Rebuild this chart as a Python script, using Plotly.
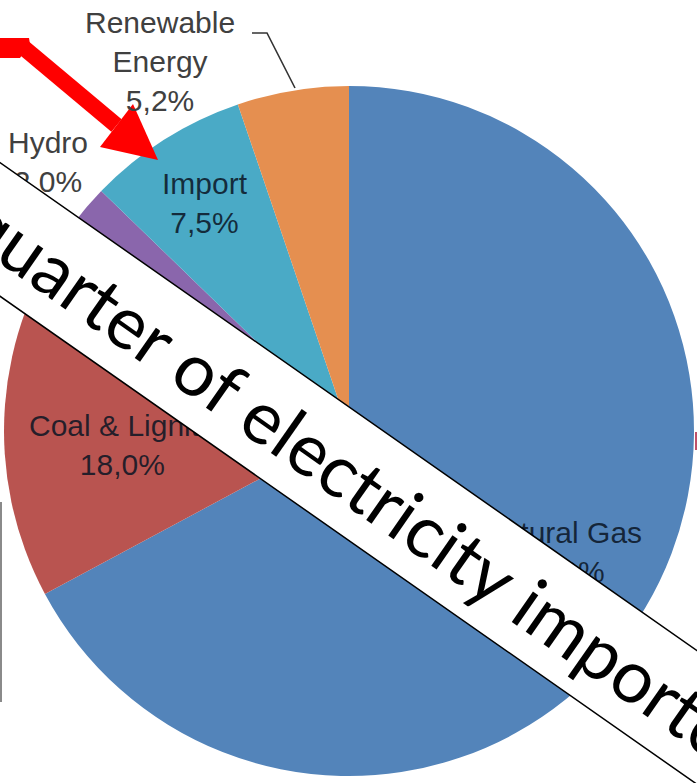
import math
import plotly.graph_objects as go

W, H = 697, 783

# Electricity generation mix (shares in %), listed clockwise from 12 o'clock
sources = ["Natural Gas", "Coal & Lignite", "Hydro", "Import", "Renewable Energy"]
shares = [66.9, 18.0, 2.0, 7.5, 5.2]
slice_colors = ["#5384BA", "#B95450", "#8A66AC", "#4AAAC6", "#E58F50"]
label_lines = ["Natural Gas", "Coal & Lignite", "Hydro", "Import", "Renewable<br>Energy"]
label_inside = [True, True, False, True, False]
banner_text = "A quarter of electricity imported"

# label centres in pixels (x, y from top)
label_pos = [(562, 552), (122, 445), (48, 162), (205, 203), (160, 62)]

# pie geometry in pixels
cx, cy, r = 349, 431, 345


def paper(x, y):
    return x / W, 1 - y / H


def pct(v):
    return f"{v:.1f}".replace(".", ",") + "%"


fig = go.Figure(
    go.Pie(
        labels=sources,
        values=shares,
        sort=False,
        direction="clockwise",
        rotation=0,
        marker=dict(colors=slice_colors, line=dict(width=0)),
        textinfo="none",
        hoverinfo="label+percent",
        showlegend=False,
        domain=dict(x=[(cx - r) / W, (cx + r) / W],
                    y=[(H - cy - r) / H, (H - cy + r) / H]),
    )
)

annotations = []
for name, val, inside, (lx, ly) in zip(label_lines, shares, label_inside, label_pos):
    ax, ay = paper(lx, ly)
    annotations.append(dict(
        x=ax, y=ay, xref="paper", yref="paper", showarrow=False,
        text=f"{name}<br>{pct(val)}",
        font=dict(family="Liberation Sans, Arial", size=30,
                  color="rgba(10,20,35,0.85)" if inside else "#404040"),
        xanchor="center", yanchor="middle", align="center",
    ))

shapes = []


def path_from(points, close=True):
    d = ""
    for i, (x, y) in enumerate(points):
        px_, py_ = paper(x, y)
        d += ("M" if i == 0 else "L") + f"{px_:.5f},{py_:.5f} "
    return d + ("Z" if close else "")


# leader line for the renewable label
shapes.append(dict(type="path", xref="paper", yref="paper",
                   path=path_from([(252, 33), (267, 33), (295, 88)], close=False),
                   line=dict(color="#333333", width=1.6)))

# red bent arrow pointing at the import slice
red = "#FF0000"
tip = (158, 160)
head_a, head_b = (133, 104), (100, 147)
base = ((head_a[0] + head_b[0]) / 2, (head_a[1] + head_b[1]) / 2)
start = (24, 48)
dx, dy = base[0] - start[0], base[1] - start[1]
L = math.hypot(dx, dy)
nx_, ny_ = -dy / L, dx / L
hw = 8
shaft = [(start[0] - hw * nx_, start[1] - hw * ny_),
         (base[0] - hw * nx_, base[1] - hw * ny_),
         (base[0] + hw * nx_, base[1] + hw * ny_),
         (start[0] + hw * nx_, start[1] + hw * ny_)]
bar = [(-10, 38), (29, 38), (30, 44), (20, 58), (-10, 58)]
for poly in (bar, shaft, [head_a, tip, head_b]):
    shapes.append(dict(type="path", xref="paper", yref="paper",
                       path=path_from(poly), fillcolor=red,
                       line=dict(color=red, width=0)))

# thin grey rule at the left edge and small red tick on the right edge
shapes.append(dict(type="line", xref="paper", yref="paper",
                   x0=1 / W, x1=1 / W, y0=1 - 502 / H, y1=1 - 702 / H,
                   line=dict(color="#8a8a8a", width=2)))
shapes.append(dict(type="line", xref="paper", yref="paper",
                   x0=696 / W, x1=696 / W, y0=1 - 432 / H, y1=1 - 450 / H,
                   line=dict(color="#c0506a", width=2)))

# diagonal white banner laid over the chart (drawn last so it covers labels)
ang = math.radians(35)
ux, uy = math.cos(ang), math.sin(ang)
bx, by = 0, 229.5
s_mid = 436
tx, ty = bx + s_mid * ux, by + s_mid * uy
ax, ay = paper(tx, ty)
annotations.append(dict(
    x=ax, y=ay, xref="paper", yref="paper", showarrow=False,
    text=banner_text + "&nbsp;&nbsp;", textangle=35,
    font=dict(family="Lato", size=73, color="black"),
    bgcolor="white", bordercolor="black", borderwidth=1.5, borderpad=10,
    xanchor="center", yanchor="middle",
))

fig.update_layout(
    width=W, height=H,
    margin=dict(l=0, r=0, t=0, b=0),
    paper_bgcolor="white",
    plot_bgcolor="white",
    annotations=annotations,
    shapes=shapes,
)

fig.write_html("out.html")
